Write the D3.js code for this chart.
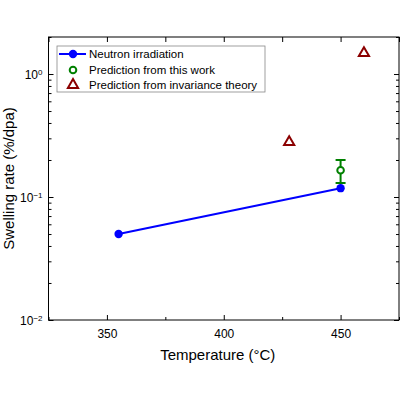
<!DOCTYPE html>
<html>
<head>
<script src="https://cdn.jsdelivr.net/npm/d3@7"></script>
<style>body{margin:0;background:#fff}text{font-family:"Liberation Sans",Arial,sans-serif}</style>
</head>
<body>
<svg id="chart" width="400" height="400"></svg>
<script>
var neutronT = [355, 450];
var neutronRate = [0.05, 0.118];
var predT = [450];
var predRate = [0.165];
var predLow = [0.13];
var predHigh = [0.2];
var invT = [428, 460];
var invRate = [0.28, 1.48];
var xTicks = [350, 400, 450];
var yTicks = [0.01, 0.1, 1];

var svg = d3.select("#chart");
var L = 48.5, R = 399, T = 37, B = 320;
var x = d3.scaleLinear().domain([325, 475]).range([L, R]);
var y = d3.scaleLog().domain([0.01, 2]).range([B, T]);

svg.append("rect").attr("x", L).attr("y", T).attr("width", R - L).attr("height", B - T)
  .attr("fill", "none").attr("stroke", "#000").attr("stroke-width", 1);

var minorY = [];
[0.01, 0.1, 1].forEach(function (d) { for (var k = 2; k < 10; k++) if (d * k <= 2) minorY.push(d * k); });
var minorX = [325, 375, 425, 475];

// ticks pointing inwards
svg.append("g").attr("transform", "translate(0," + B + ")")
  .call(d3.axisBottom(x).tickValues(xTicks).tickSize(-5).tickSizeOuter(0).tickPadding(9))
  .call(function (g) { g.select(".domain").remove(); g.selectAll("text").attr("font-size", 12); });
svg.append("g").attr("transform", "translate(0," + T + ")")
  .call(d3.axisTop(x).tickValues(xTicks.concat(minorX)).tickSize(-5).tickFormat(""))
  .call(function (g) { g.select(".domain").remove(); });
svg.append("g").attr("transform", "translate(0," + B + ")")
  .call(d3.axisBottom(x).tickValues(minorX).tickSize(-3).tickFormat(""))
  .call(function (g) { g.select(".domain").remove(); });

var yl = svg.append("g").attr("transform", "translate(" + L + ",0)")
  .call(d3.axisLeft(y).tickValues(yTicks).tickSize(-5).tickPadding(8).tickFormat(function () { return ""; }))
  .call(function (g) { g.select(".domain").remove(); });
yl.selectAll(".tick").each(function (d) {
  var t = d3.select(this).append("text").attr("x", -6).attr("dy", "0.35em").attr("text-anchor", "end")
    .attr("fill", "#000").attr("font-size", 12);
  t.append("tspan").text("10");
  t.append("tspan").attr("dy", "-0.5em").attr("font-size", 8).text(d === 1 ? "0" : "\u2212" + Math.round(-Math.log10(d)));
});
svg.append("g").attr("transform", "translate(" + L + ",0)")
  .call(d3.axisLeft(y).tickValues(minorY).tickSize(-3).tickFormat(""))
  .call(function (g) { g.select(".domain").remove(); });
svg.append("g").attr("transform", "translate(" + R + ",0)")
  .call(d3.axisRight(y).tickValues(yTicks).tickSize(-5).tickFormat(""))
  .call(function (g) { g.select(".domain").remove(); });
svg.append("g").attr("transform", "translate(" + R + ",0)")
  .call(d3.axisRight(y).tickValues(minorY).tickSize(-3).tickFormat(""))
  .call(function (g) { g.select(".domain").remove(); });

svg.append("text").attr("x", (L + R) / 2 - 6).attr("y", 360).attr("text-anchor", "middle")
  .attr("font-size", 15).text("Temperature (\u00B0C)");
svg.append("text").attr("transform", "translate(14," + ((T + B) / 2) + ") rotate(-90)")
  .attr("text-anchor", "middle").attr("font-size", 15).text("Swelling rate (%/dpa)");

// neutron
var nData = neutronT.map(function (t, i) { return [t, neutronRate[i]]; });
svg.append("path").datum(nData).attr("fill", "none").attr("stroke", "#0000ff").attr("stroke-width", 2)
  .attr("d", d3.line().x(function (d) { return x(d[0]); }).y(function (d) { return y(d[1]); }));
var hex = d3.symbol().type(d3.symbolCircle).size(55);
svg.selectAll(".n").data(nData).enter().append("path").attr("d", hex)
  .attr("transform", function (d) { return "translate(" + x(d[0]) + "," + y(d[1]) + ")"; })
  .attr("fill", "#0000ff");

// prediction with error bar
predT.forEach(function (t, i) {
  var g = svg.append("g").attr("stroke", "#008000").attr("stroke-width", 2);
  g.append("line").attr("x1", x(t)).attr("x2", x(t)).attr("y1", y(predLow[i])).attr("y2", y(predHigh[i]));
  [predLow[i], predHigh[i]].forEach(function (v) {
    g.append("line").attr("x1", x(t) - 5).attr("x2", x(t) + 5).attr("y1", y(v)).attr("y2", y(v));
  });
  g.append("circle").attr("cx", x(t)).attr("cy", y(predRate[i])).attr("r", 3.3).attr("fill", "#fff");
});

// invariance theory
var tri = d3.symbol().type(d3.symbolTriangle).size(45);
svg.selectAll(".inv").data(invT).enter().append("path").attr("d", tri)
  .attr("transform", function (d, i) { return "translate(" + x(d) + "," + y(invRate[i]) + ")"; })
  .attr("fill", "none").attr("stroke", "#8b0000").attr("stroke-width", 2);

// legend
var lg = svg.append("g");
lg.append("rect").attr("x", 57).attr("y", 46).attr("width", 208).attr("height", 46)
  .attr("fill", "#fff").attr("stroke", "#888").attr("stroke-width", 0.8);
lg.append("line").attr("x1", 59).attr("x2", 86).attr("y1", 54).attr("y2", 54).attr("stroke", "#0000ff").attr("stroke-width", 2);
lg.append("path").attr("d", hex).attr("transform", "translate(73,54)").attr("fill", "#0000ff");
lg.append("circle").attr("cx", 73).attr("cy", 70).attr("r", 3.3).attr("fill", "#fff").attr("stroke", "#008000").attr("stroke-width", 2);
lg.append("path").attr("d", tri).attr("transform", "translate(73,85)").attr("fill", "none").attr("stroke", "#8b0000").attr("stroke-width", 2);
["Neutron irradiation", "Prediction from this work", "Prediction from invariance theory"].forEach(function (s, i) {
  lg.append("text").attr("x", 89).attr("y", 54 + i * 15.5).attr("dy", "0.35em").attr("font-size", 11.5).text(s);
});
</script>
</body>
</html>
